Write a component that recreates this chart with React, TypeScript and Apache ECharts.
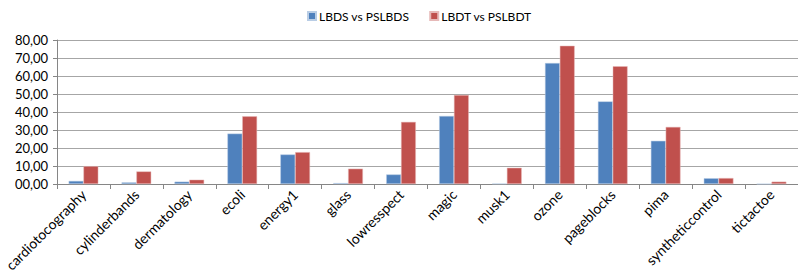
import React, { useEffect, useRef } from "react";
import * as echarts from "echarts";

const categories = [
  "cardiotocography", "cylinderbands", "dermatology", "ecoli", "energy1", "glass",
  "lowresspect", "magic", "musk1", "ozone", "pageblocks", "pima", "syntheticcontrol", "tictactoe",
];
const seriesNames = ["LBDS vs PSLBDS", "LBDT vs PSLBDT"];
const lbdsValues = [1.7, 0.9, 1.3, 28.0, 16.4, 0.5, 5.3, 37.8, 0.2, 67.2, 45.9, 24.0, 3.2, 0.0];
const lbdtValues = [9.9, 7.0, 2.4, 37.6, 17.7, 8.5, 34.5, 49.4, 9.0, 76.8, 65.4, 31.7, 3.3, 1.3];
const colors = ["#4F81BD", "#C0504D"];

const FONT = "Lato, 'Open Sans', sans-serif";

export default function App() {
  const ref = useRef<HTMLDivElement>(null);
  useEffect(() => {
    if (!ref.current) return;
    const chart = echarts.init(ref.current, null, { renderer: "svg" });
    chart.setOption({
      animation: false,
      textStyle: { fontFamily: FONT },
      legend: {
        top: 5,
        left: 302,
        itemWidth: 8,
        itemHeight: 8,
        itemGap: 20,
        icon: "rect",
        textStyle: { fontSize: 12, color: "#000", fontFamily: FONT, padding: [0, 0, 0, -2] },
        data: seriesNames,
      },
      grid: { left: 57, right: -11, top: 40, bottom: 93, containLabel: false },
      xAxis: {
        type: "category",
        data: categories,
        axisLine: { lineStyle: { color: "#868686" } },
        axisTick: { show: true, length: 5, lineStyle: { color: "#868686" } },
        axisLabel: { rotate: 45, fontSize: 14, color: "#000", margin: 8, interval: 0, fontFamily: FONT },
      },
      yAxis: {
        type: "value",
        min: 0,
        max: 80,
        interval: 10,
        axisLine: { show: true, lineStyle: { color: "#868686" } },
        axisTick: { show: true, length: 4, lineStyle: { color: "#868686" } },
        splitLine: { lineStyle: { color: "#A6A6A6" } },
        axisLabel: {
          fontSize: 13,
          color: "#000",
          margin: 9,
          fontFamily: FONT,
          formatter: (v: number) => {
            const s = v.toFixed(2).replace(".", ",");
            return s.length < 5 ? "0" + s : s;
          },
        },
      },
      series: [
        {
          name: seriesNames[0],
          type: "bar",
          data: lbdsValues,
          barGap: "0%",
          barCategoryGap: "44%",
          itemStyle: { color: colors[0], borderColor: "#B9CDE5", borderWidth: 0.5 },
        },
        {
          name: seriesNames[1],
          type: "bar",
          data: lbdtValues,
          barGap: "0%",
          barCategoryGap: "44%",
          itemStyle: { color: colors[1], borderColor: "#E6B9B8", borderWidth: 0.5 },
        },
      ],
    });
    return () => chart.dispose();
  }, []);
  return <div ref={ref} style={{ width: 798, height: 277, position: "absolute", left: 0, top: 0 }} />;
}
